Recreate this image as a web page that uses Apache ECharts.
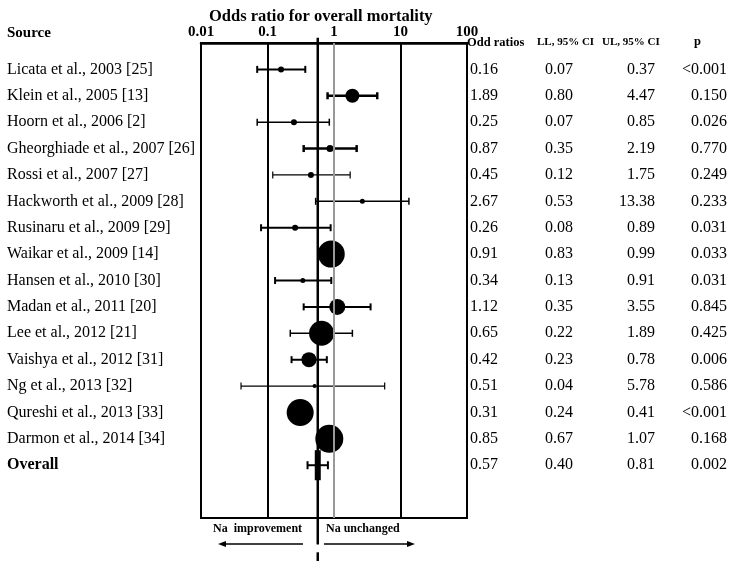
<!DOCTYPE html>
<html>
<head>
<meta charset="utf-8">
<script src="https://cdn.jsdelivr.net/npm/echarts@6/dist/echarts.min.js"></script>
<style>html,body{margin:0;padding:0;background:#fff;}#c{width:731px;height:561px;}</style>
</head>
<body>
<div id="c"></div>
<script>
// ---- data ----
const sources = ["Licata et al., 2003 [25]","Klein et al., 2005 [13]","Hoorn et al., 2006 [2]","Gheorghiade et al., 2007 [26]","Rossi et al., 2007 [27]","Hackworth et al., 2009 [28]","Rusinaru et al., 2009 [29]","Waikar et al., 2009 [14]","Hansen et al., 2010 [30]","Madan et al., 2011 [20]","Lee et al., 2012 [21]","Vaishya et al., 2012 [31]","Ng et al., 2013 [32]","Qureshi et al., 2013 [33]","Darmon et al., 2014 [34]","Overall"];
const oddRatios = [0.16,1.89,0.25,0.87,0.45,2.67,0.26,0.91,0.34,1.12,0.65,0.42,0.51,0.31,0.85,0.57];
const lowerCI   = [0.07,0.80,0.07,0.35,0.12,0.53,0.08,0.83,0.13,0.35,0.22,0.23,0.04,0.24,0.67,0.40];
const upperCI   = [0.37,4.47,0.85,2.19,1.75,13.38,0.89,0.99,0.91,3.55,1.89,0.78,5.78,0.41,1.07,0.81];
const pValues   = ["<0.001","0.150","0.026","0.770","0.249","0.233","0.031","0.033","0.031","0.845","0.425","0.006","0.586","<0.001","0.168","0.002"];
// study weights (relative)
const weights   = [6,14,6,7,6,5,6,27,5,16,25,15,4,27,28];
const xTicks = [0.01,0.1,1,10,100];

// ---- styles ----
const ciWidths = [2,2.5,1.5,2.5,1.2,1.5,2,1.5,2,2,1.5,2,1.2,1.5,1.5,2];
const FONT = "'Liberation Serif','Times New Roman',serif";
const nStudies = sources.length - 1;
const overallIdx = sources.length - 1;

const chart = echarts.init(document.getElementById('c'));

const ciData = oddRatios.map((v,i)=>[i, lowerCI[i], upperCI[i], ciWidths[i]]);
const pointData = oddRatios.slice(0,nStudies).map((v,i)=>({value:[v,i], symbolSize: weights[i]}));

function rightAxis(fmt, align, margin){
  return {
    type:'value', position:'right', min:-1, max:17, interval:1, inverse:true,
    axisLine:{show:false}, axisTick:{show:false}, splitLine:{show:false},
    axisLabel:{
      formatter: v => (v>=0 && v<sources.length) ? fmt(v) : '',
      align: align, margin: margin, fontFamily: FONT, fontSize: 16, color:'#000'
    }
  };
}

const option = {
  animation:false,
  backgroundColor:'#fff',
  title:{
    text:'Odds ratio for overall mortality', left:204, top:3,
    textStyle:{fontFamily:FONT, fontWeight:'bold', fontSize:16.5, color:'#000'}
  },
  grid:{left:201, right:264, top:43, height:475, show:true, borderColor:'#000', borderWidth:2, backgroundColor:'transparent'},
  xAxis:{
    type:'log', logBase:10, min:0.01, max:100, position:'top',
    axisLine:{show:true, onZero:false, lineStyle:{color:'#000', width:2.5}},
    axisTick:{show:false}, splitLine:{show:false}, minorTick:{show:false},
    axisLabel:{
      margin:3, fontFamily:FONT, fontWeight:'bold', fontSize:15, color:'#000',
      formatter: v => { const t = xTicks.find(x=>Math.abs(x-v)/x<1e-6); return t===undefined?'':String(t); }
    }
  },
  yAxis:[
    {
      type:'value', min:-1, max:17, interval:1, inverse:true,
      axisLine:{show:false}, axisTick:{show:false}, splitLine:{show:false},
      axisLabel:{
        align:'left', margin:194, fontFamily:FONT, fontSize:16, color:'#000',
        formatter: v => {
          if (v<0 || v>=sources.length) return '';
          return v===overallIdx ? '{b|'+sources[v]+'}' : sources[v];
        },
        rich:{b:{fontFamily:FONT, fontSize:16, fontWeight:'bold', color:'#000'}}
      }
    },
    rightAxis(v=>oddRatios[v].toFixed(2),'left',3),
    rightAxis(v=>lowerCI[v].toFixed(2),'center',92),
    rightAxis(v=>upperCI[v].toFixed(2),'right',188),
    rightAxis(v=>pValues[v],'right',260)
  ],
  graphic:[
    {type:'text', left:467, top:36, style:{text:'Odd ratios', fontFamily:FONT, fontWeight:'bold', fontSize:12.5, fill:'#000'}},
    {type:'text', left:537, top:37, style:{text:'LL, 95% CI', fontFamily:FONT, fontWeight:'bold', fontSize:11, fill:'#000'}},
    {type:'text', left:602, top:37, style:{text:'UL, 95% CI', fontFamily:FONT, fontWeight:'bold', fontSize:11, fill:'#000'}},
    {type:'text', left:694, top:35, style:{text:'p', fontFamily:FONT, fontWeight:'bold', fontSize:12.5, fill:'#000'}},
    {type:'text', left:7, top:26, style:{text:'Source', fontFamily:FONT, fontWeight:'bold', fontSize:15, fill:'#000'}},
    {type:'text', left:213, top:523, style:{text:'Na  improvement', fontFamily:FONT, fontWeight:'bold', fontSize:12, fill:'#000'}},
    {type:'text', left:326, top:523, style:{text:'Na unchanged', fontFamily:FONT, fontWeight:'bold', fontSize:12, fill:'#000'}},
    {type:'line', shape:{x1:224, y1:544, x2:303, y2:544}, style:{stroke:'#000', lineWidth:1.5}},
    {type:'polygon', shape:{points:[[218,544],[226,541],[226,547]]}, style:{fill:'#000'}},
    {type:'line', shape:{x1:324, y1:544, x2:409, y2:544}, style:{stroke:'#000', lineWidth:1.5}},
    {type:'polygon', shape:{points:[[415,544],[407,541],[407,547]]}, style:{fill:'#000'}}
  ],
  series:[
    {
      // reference lines at 0.1, 1, 10
      type:'scatter', data:[], xAxisIndex:0, yAxisIndex:0,
      markLine:{
        silent:true, symbol:'none', label:{show:false},
        data:[
          {xAxis:0.1, lineStyle:{color:'#000', width:2, type:'solid'}},
          {xAxis:1, lineStyle:{color:'#999', width:2, type:'solid'}},
          {xAxis:10, lineStyle:{color:'#000', width:2, type:'solid'}}
        ]
      },
      z:1
    },
    {
      // pooled estimate vertical line
      type:'custom', clip:false, z:2,
      data:[[oddRatios[overallIdx]]],
      renderItem:(params, api)=>{
        const x = api.coord([api.value(0), 0])[0];
        const yTop = api.coord([1, -1.2])[1];
        const yB = api.coord([1, 18])[1];
        const yD1 = api.coord([1, 18.3])[1];
        const yD2 = api.coord([1, 18.75])[1];
        return {type:'group', children:[
          {type:'line', shape:{x1:x, y1:yTop, x2:x, y2:yB}, style:{stroke:'#000', lineWidth:2.5}},
          {type:'line', shape:{x1:x, y1:yD1, x2:x, y2:yD2}, style:{stroke:'#000', lineWidth:2.5}}
        ]};
      }
    },
    {
      // confidence intervals
      type:'custom', clip:false, z:3,
      data:ciData,
      renderItem:(params, api)=>{
        const i = api.value(0);
        const p1 = api.coord([api.value(1), i]);
        const p2 = api.coord([api.value(2), i]);
        const w = api.value(3);
        const h = i===overallIdx ? 4 : 3.5;
        const st = {stroke:'#000', lineWidth:w};
        return {type:'group', children:[
          {type:'line', shape:{x1:p1[0], y1:p1[1], x2:p2[0], y2:p2[1]}, style:st},
          {type:'line', shape:{x1:p1[0], y1:p1[1]-h, x2:p1[0], y2:p1[1]+h}, style:st},
          {type:'line', shape:{x1:p2[0], y1:p2[1]-h, x2:p2[0], y2:p2[1]+h}, style:st}
        ]};
      }
    },
    {
      type:'scatter', z:4, symbol:'circle',
      itemStyle:{color:'#000', opacity:1},
      data:pointData
    },
    {
      type:'scatter', z:4, symbol:'rect', symbolSize:[6,30],
      itemStyle:{color:'#000', opacity:1},
      data:[[oddRatios[overallIdx], overallIdx]]
    }
  ]
};
chart.setOption(option);
</script>
</body>
</html>
